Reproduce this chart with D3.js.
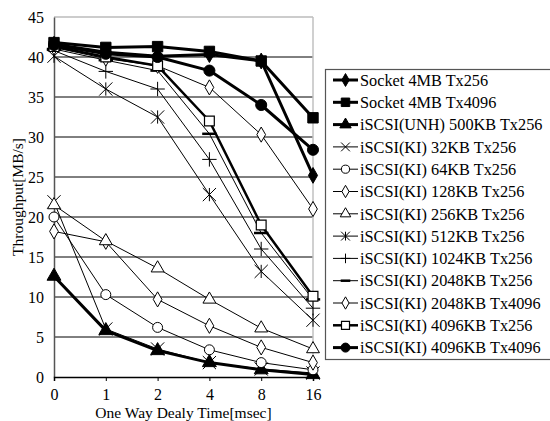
<!DOCTYPE html>
<html><head><meta charset="utf-8">
<script src="https://cdn.jsdelivr.net/npm/d3@7"></script>
<style>body{margin:0;background:#fff}svg{display:block}</style>
</head><body><svg id="c" width="550" height="421"></svg>
<script>
const categories = ["0","1","2","4","8","16"];
const yTicks = [0,5,10,15,20,25,30,35,40,45];
const seriesNames = ["Socket 4MB Tx256","Socket 4MB Tx4096","iSCSI(UNH) 500KB Tx256","iSCSI(KI) 32KB Tx256","iSCSI(KI) 64KB Tx256","iSCSI(KI) 128KB Tx256","iSCSI(KI) 256KB Tx256","iSCSI(KI) 512KB Tx256","iSCSI(KI) 1024KB Tx256","iSCSI(KI) 2048KB Tx256","iSCSI(KI) 2048KB Tx4096","iSCSI(KI) 4096KB Tx256","iSCSI(KI) 4096KB Tx4096"];
const socket256 = [41.6,40.6,40.1,40.3,39.5,25.2];
const socket4096 = [41.8,41.2,41.3,40.7,39.5,32.4];
const unh500 = [12.6,5.8,3.3,1.8,0.9,0.3];
const ki32 = [21.9,6.0,3.5,1.8,1.0,0.5];
const ki64 = [20.0,10.3,6.2,3.4,1.8,0.9];
const ki128 = [18.2,16.9,9.7,6.4,3.7,1.8];
const ki256 = [21.5,17.0,13.6,9.7,6.1,3.5];
const ki512 = [40.1,36.0,32.5,22.8,13.2,7.1];
const ki1024 = [40.8,38.2,36.0,27.2,16.0,8.6];
const ki2048 = [41.0,39.6,38.3,30.4,18.0,9.7];
const ki2048tx4096 = [41.2,39.8,38.9,36.2,30.3,21.0];
const ki4096 = [41.3,40.0,38.9,32.0,19.0,10.1];
const ki4096tx4096 = [41.5,40.4,40.0,38.3,34.0,28.4];
const seriesValues = [socket256,socket4096,unh500,ki32,ki64,ki128,ki256,ki512,ki1024,ki2048,ki2048tx4096,ki4096,ki4096tx4096];
const markers = ["diamondF","squareF","triangleF","x","circle","diamond","triangle","asterisk","plus","dash","diamond","square","circleF"];
const thick = [3,3,3,1,1,1,1,1,1,1,1,2.5,3];

const FONT = "Liberation Serif, Times New Roman, serif";
const svg = d3.select("#c");
const L=54, R=313, T=17, B=377;
const x = d3.scalePoint().domain(categories).range([L,R]).padding(0);
const y = d3.scaleLinear().domain([0,45]).range([B,T]);

svg.append("g").selectAll("line").data(yTicks.filter(d=>d>0&&d<45)).join("line")
  .attr("x1",L).attr("x2",R).attr("y1",d=>y(d)).attr("y2",d=>y(d)).attr("stroke","#000").attr("stroke-width",1);
svg.append("line").attr("x1",L).attr("x2",R).attr("y1",T).attr("y2",T).attr("stroke","#999").attr("stroke-width",1.2);
svg.append("line").attr("x1",R).attr("x2",R).attr("y1",T).attr("y2",B).attr("stroke","#c0c0c0").attr("stroke-width",1.5);

const yAxis = svg.append("g").attr("transform",`translate(${L},0)`)
  .call(d3.axisLeft(y).tickValues(yTicks).tickSize(0).tickPadding(10));
yAxis.select(".domain").attr("stroke","#555").attr("stroke-width",1.5);
yAxis.attr("font-family",FONT).attr("font-size",16);
yAxis.selectAll("text").attr("fill","#000");
const xAxis = svg.append("g").attr("transform",`translate(0,${B})`)
  .call(d3.axisBottom(x).tickSize(4).tickPadding(8));
xAxis.select(".domain").attr("stroke","#000").attr("stroke-width",1.5);
xAxis.selectAll("line").attr("stroke","#000");
xAxis.attr("font-family",FONT).attr("font-size",16);
xAxis.selectAll("text").attr("fill","#000");

svg.append("text").attr("x",(L+R)/2).attr("y",418).attr("text-anchor","middle").attr("font-family",FONT).attr("font-size",15.5).text("One Way Dealy Time[msec]");
svg.append("text").attr("transform",`translate(23,${(T+B)/2}) rotate(-90)`).attr("text-anchor","middle").attr("font-family",FONT).attr("font-size",15.5).text("Throughput[MB/s]");

function drawMarker(g, type, s){
  const sym = (t, size)=>d3.symbol().type(t).size(size)();
  let fill="none", stroke="#000", sw=1, d;
  switch(type){
    case "diamondF": d=sym(d3.symbolDiamond,s*6); fill="#000"; break;
    case "squareF": d=sym(d3.symbolSquare,s*9); fill="#000"; break;
    case "triangleF": d=sym(d3.symbolTriangle,s*7); fill="#000"; break;
    case "circleF": d=sym(d3.symbolCircle,s*8); fill="#000"; break;
    case "circle": d=sym(d3.symbolCircle,s*6.5); fill="#fff"; break;
    case "diamond": d=sym(d3.symbolDiamond,s*5.5); fill="#fff"; break;
    case "triangle": d=sym(d3.symbolTriangle,s*6); fill="#fff"; break;
    case "square": d=sym(d3.symbolSquare,s*8); fill="#fff"; sw=1.2; break;
    case "x": {const r=s*0.55; d=`M${-r},${-r}L${r},${r}M${-r},${r}L${r},${-r}`; break;}
    case "asterisk": {const r=s*0.55; d=`M${-r},${-r}L${r},${r}M${-r},${r}L${r},${-r}M0,${-r}L0,${r}`; break;}
    case "plus": {const r=s*0.6; d=`M${-r},0L${r},0M0,${-r}L0,${r}`; break;}
    case "dash": {const r=s*0.6; d=`M${-r},0L${r},0`; sw=2.5; break;}
  }
  g.append("path").attr("d",d).attr("fill",fill).attr("stroke",stroke).attr("stroke-width",sw);
}

const line = d3.line().x((d,i)=>x(categories[i])).y(d=>y(d));
seriesValues.forEach((vals,si)=>{
  svg.append("path").datum(vals).attr("d",line).attr("fill","none").attr("stroke","#000").attr("stroke-width",thick[si]).attr("stroke-linejoin","round");
});
seriesValues.forEach((vals,si)=>{
  vals.forEach((v,i)=>{
    const mg = svg.append("g").attr("transform",`translate(${x(categories[i])},${y(v)})`);
    drawMarker(mg, markers[si], 12);
  });
});

const lg = svg.append("g");
lg.append("rect").attr("x",325.5).attr("y",69.5).attr("width",230).attr("height",290).attr("fill","#fff").attr("stroke","#555").attr("stroke-width",1.2);
seriesNames.forEach((n,i)=>{
  const cy = 80 + i*22.3;
  lg.append("line").attr("x1",333).attr("x2",358).attr("y1",cy).attr("y2",cy).attr("stroke","#000").attr("stroke-width",thick[i]);
  const mg = lg.append("g").attr("transform",`translate(345.5,${cy})`);
  drawMarker(mg, markers[i], 8);
  lg.append("text").attr("x",360).attr("y",cy).attr("dy","0.35em").attr("font-family",FONT).attr("font-size",16.3).text(n);
});
</script></body></html>
